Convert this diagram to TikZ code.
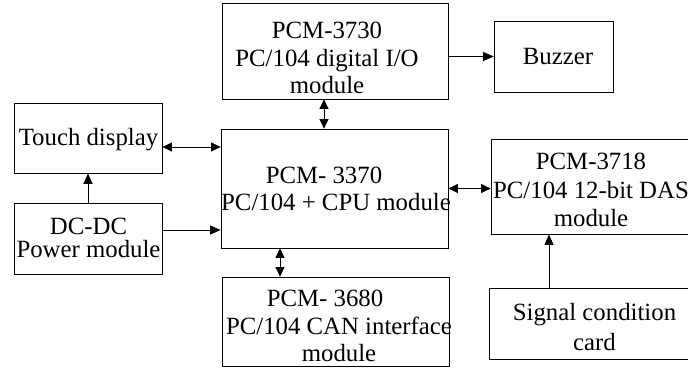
\documentclass[tikz,border=0pt]{standalone}
\usepackage{fontspec}
\setmainfont{Liberation Serif}
\usetikzlibrary{arrows.meta,calc}

\begin{document}
\begin{tikzpicture}[x=1pt,y=-1pt,
  blk/.style={draw=black,line width=0.8pt,inner sep=0pt},
  lbl/.style={align=center,inner sep=0pt,font=\fontsize{24.8}{27.5}\selectfont},
  arr/.style={-{Triangle[length=10.5pt,width=9pt]},line width=0.8pt},
  dbl/.style={{Triangle[length=9.5pt,width=9pt]}-{Triangle[length=9.5pt,width=9pt]},line width=0.8pt}]
  \useasboundingbox (0,0) rectangle (688,367);
  \clip (0,0) rectangle (688,367);
  % boxes
  \node[blk,minimum width=148,minimum height=70] (touch) at (88,138) {};
  \node[blk,minimum width=148,minimum height=71] (dcdc) at (88,238.5) {};
  \node[blk,minimum width=226,minimum height=96] (io) at (335,51) {};
  \node[blk,minimum width=119,minimum height=71] (buzzer) at (553.5,56.5) {};
  \node[blk,minimum width=227,minimum height=119] (cpu) at (334.5,188.5) {};
  \node[blk,minimum width=227,minimum height=89] (can) at (335.5,321.5) {};
  \node[blk,minimum width=209,minimum height=95] (das) at (595.5,186.5) {};
  \node[blk,minimum width=211,minimum height=71] (signal) at (594.5,323.5) {};
  % texts
  \node[lbl] (touch-t) at (88.5,139.2) {Touch display};
  \node[lbl,font=\fontsize{24.8}{23}\selectfont] (dcdc-t) at (88.5,238.3) {DC-DC\\Power module};
  \node[lbl] (io-t) at (327,58.1) {PCM-3730\\PC/104 digital I/O\\module};
  \node[lbl] (buzzer-t) at (558,56.8) {Buzzer};
  \node[lbl,font=\fontsize{24.8}{27}\selectfont] (cpu-t) at (336,189.3)
    {PCM- 3370\hspace*{24pt}\\PC/104 + CPU module};
  \node[lbl] (can-t) at (339,326.1)
    {PCM- 3680\hspace*{28pt}\\PC/104 CAN interface\\module};
  \node[lbl,font=\fontsize{24.8}{28.5}\selectfont] (das-t) at (591,190.1)
    {PCM-3718\\PC/104 12-bit DAS\\module};
  \node[lbl,font=\fontsize{24.8}{30}\selectfont] (signal-t) at (594.5,327.5)
    {Signal condition\\card};
  % links
  \draw[dbl] ($(touch.east)+(0,9)$) coordinate (t1) -- (t1 -| cpu.west);
  \draw[arr] (dcdc.north) -- (touch.south);
  \draw[arr] ($(dcdc.east)+(0,-8.5)$) coordinate (d1) -- (d1 -| cpu.west);
  \draw[dbl] ($(io.south)+(-11,0)$) coordinate (v1) -- (v1 |- cpu.north);
  \draw[arr] (buzzer.west -| io.east) -- (buzzer.west);
  \draw[dbl] ($(cpu.south)+(-54.5,0)$) coordinate (v2) -- (v2 |- can.north);
  \draw[dbl] (cpu.east) -- (cpu.east -| das.west);
  \draw[arr] ($(signal.north)+(-45.5,0)$) coordinate (s1) -- (s1 |- das.south);
\end{tikzpicture}
\end{document}
